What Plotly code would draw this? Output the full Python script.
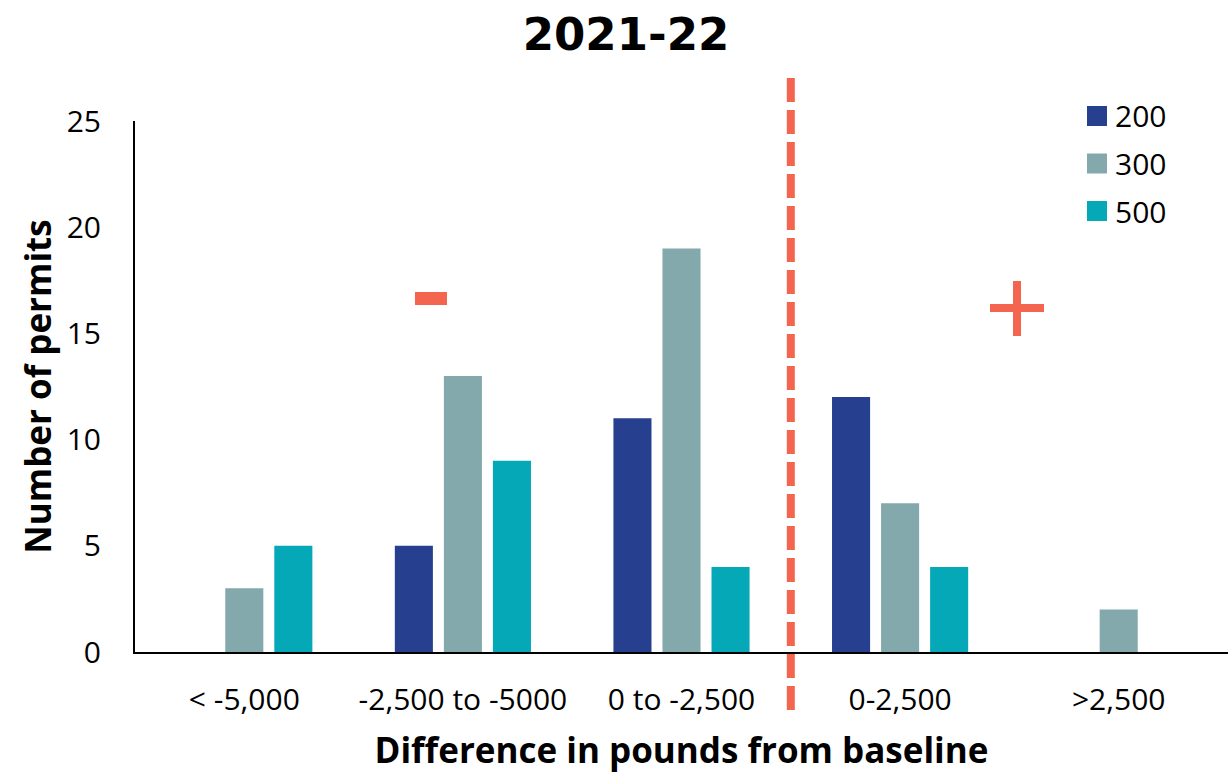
import plotly.graph_objects as go

# Permit counts by difference-from-baseline bucket, split by permit size
categories = ["< -5,000", "-2,500 to -5000", "0 to -2,500", "0-2,500", ">2,500"]
series_names = ["200", "300", "500"]
counts_200 = [0, 5, 11, 12, 0]
counts_300 = [3, 13, 19, 7, 2]
counts_500 = [5, 9, 4, 4, 0]
series_colors = ["#263F8E", "#84A9AC", "#05A8B7"]
y_ticks = [0, 5, 10, 15, 20, 25]

accent = "#F4654F"
body_font = "Open Sans"

W, H = 1229, 774
L, R, T, B = 135, 1, 121, 122
pw, ph = W - L - R, H - T - B


def px_x(px):
    return (px - L) / pw


def px_y(py):
    return (H - B - py) / ph


fig = go.Figure()
for name, vals, col in zip(series_names, [counts_200, counts_300, counts_500], series_colors):
    fig.add_trace(go.Bar(
        x=categories, y=vals, name=name, marker=dict(color=col, line=dict(width=0)),
        showlegend=False,
    ))

shapes = []
annotations = []

# divider between negative and positive differences
shapes.append(dict(
    type="line", xref="x", yref="paper",
    x0=2.5, x1=2.5, y0=px_y(710), y1=px_y(76),
    line=dict(color=accent, width=8, dash="24px,8px"),
))

# minus sign over the reductions side
shapes.append(dict(type="rect", xref="paper", yref="paper",
                   x0=px_x(415), x1=px_x(447), y0=px_y(305), y1=px_y(292),
                   fillcolor=accent, line=dict(width=0)))
# plus sign over the increases side
shapes.append(dict(type="rect", xref="paper", yref="paper",
                   x0=px_x(990), x1=px_x(1044), y0=px_y(312), y1=px_y(304),
                   fillcolor=accent, line=dict(width=0)))
shapes.append(dict(type="rect", xref="paper", yref="paper",
                   x0=px_x(1013), x1=px_x(1021), y0=px_y(336), y1=px_y(281),
                   fillcolor=accent, line=dict(width=0)))

# legend built from the series names and colours
for i, (name, col) in enumerate(zip(series_names, series_colors)):
    cy = 116 + i * 47.5
    shapes.append(dict(type="rect", xref="paper", yref="paper",
                       x0=px_x(1087), x1=px_x(1107), y0=px_y(cy + 10), y1=px_y(cy - 10),
                       fillcolor=col, line=dict(width=0)))
    annotations.append(dict(
        text=name, xref="paper", yref="paper", x=px_x(1113), y=px_y(cy),
        xanchor="left", yanchor="middle", showarrow=False,
        font=dict(family=body_font, size=30, color="black"),
    ))

fig.update_layout(
    width=W, height=H,
    margin=dict(l=L, r=R, t=T, b=B),
    paper_bgcolor="white", plot_bgcolor="white",
    barmode="group", bargap=0.327, bargroupgap=0.224,
    title=dict(text="<b>2021-22</b>", x=626 / W, xref="container", xanchor="center",
               y=1 - 34 / H, yref="container", yanchor="middle",
               font=dict(family="DejaVu Sans", size=45, color="black")),
    font=dict(family=body_font, color="black"),
    shapes=shapes,
    annotations=annotations,
)

fig.update_xaxes(
    type="category", range=[-0.5, 4.5],
    showline=True, linecolor="black", linewidth=2,
    showgrid=False, ticks="", ticklabelstandoff=20,
    tickfont=dict(family=body_font, size=30, color="black"),
    title=dict(text="<b>Difference in pounds from baseline</b>", standoff=20,
               font=dict(family=body_font, size=35, color="black")),
)
fig.update_yaxes(
    range=[0, 25], tickvals=y_ticks,
    showline=True, linecolor="black", linewidth=2,
    showgrid=False, zeroline=False, ticks="", ticklabelstandoff=26,
    tickfont=dict(family=body_font, size=30, color="black"),
    title=dict(text="<b>Number of permits</b>", standoff=4,
               font=dict(family=body_font, size=35, color="black")),
)

fig.write_html("out.html")
